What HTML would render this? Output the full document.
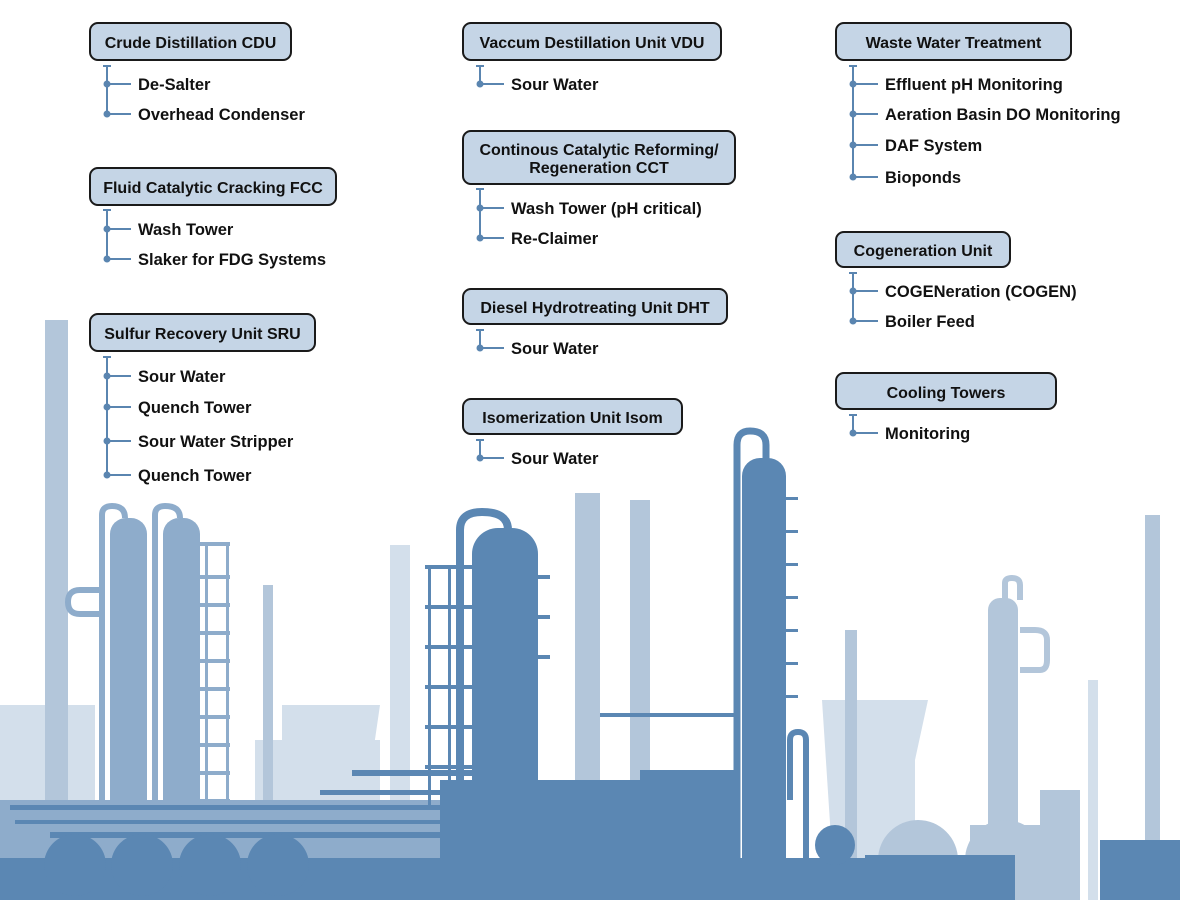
<!DOCTYPE html>
<html><head><meta charset="utf-8"><style>
html,body{margin:0;padding:0;background:#fff;width:1200px;height:900px;overflow:hidden}
svg{display:block}
text{font-family:"Liberation Sans",sans-serif;font-weight:bold;fill:#111}
.it{font-size:16.5px}
.hd{font-size:16px}
.bx{fill:#c5d5e6;stroke:#1a1a1a;stroke-width:2}
.br{stroke:#5a85b0;stroke-width:2;fill:none}
.dot{fill:#5a85b0}
.L{fill:#d3dfeb}.M{fill:#b3c6da}.N{fill:#8eaccb}.D{fill:#5b87b3}
</style></head><body>
<svg width="1200" height="900" viewBox="0 0 1200 900" xmlns="http://www.w3.org/2000/svg">
<g>
<rect class="L" x="0" y="705" width="95" height="195"/>
<path class="L" d="M282 705 H380 L372 760 V900 H282 Z"/>
<path class="L" d="M822 700 H928 L915 760 V900 H835 Z"/>
<rect class="L" x="255" y="740" width="125" height="160"/>
<rect class="M" x="45" y="320" width="23" height="580"/>
<rect class="M" x="575" y="493" width="25" height="407"/>
<rect class="M" x="630" y="500" width="20" height="400"/>
<rect class="L" x="390" y="545" width="20" height="355"/>
<rect class="M" x="263" y="585" width="10" height="315"/>
<rect class="M" x="1145" y="515" width="15" height="385"/>
<rect class="L" x="1088" y="680" width="10" height="220"/>
<rect class="M" x="845" y="630" width="12" height="270"/>
<rect class="M" x="988" y="598" width="30" height="302" rx="12"/>
<path d="M1020 670 H1040 Q1047 670 1047 660 V640 Q1047 630 1035 630 H1020" stroke="#b3c6da" stroke-width="6" fill="none"/>
<path d="M1005 600 V583 Q1005 578 1012 578 Q1020 578 1020 585 V600" stroke="#b3c6da" stroke-width="6" fill="none"/>
<rect class="M" x="970" y="825" width="80" height="75"/>
<circle class="M" cx="918" cy="860" r="40"/>
<circle class="M" cx="1005" cy="860" r="40"/>
<rect class="M" x="1040" y="790" width="40" height="110"/>
<rect class="N" x="0" y="800" width="440" height="60"/>
<rect class="N" x="110" y="518" width="37" height="340" rx="16"/>
<rect class="N" x="163" y="518" width="37" height="340" rx="16"/>
<path d="M102 830 V515 Q102 506 112 506 Q125 506 125 518" stroke="#8eaccb" stroke-width="6" fill="none"/>
<path d="M155 830 V515 Q155 506 165 506 Q180 506 180 518" stroke="#8eaccb" stroke-width="6" fill="none"/>
<path d="M102 590 H80 Q68 590 68 602 Q68 614 80 614 H102" stroke="#8eaccb" stroke-width="6" fill="none"/>
<g fill="#8eaccb">
<rect x="200" y="542" width="30" height="4"/><rect x="200" y="575" width="30" height="4"/><rect x="200" y="603" width="30" height="4"/><rect x="200" y="631" width="30" height="4"/><rect x="200" y="659" width="30" height="4"/><rect x="200" y="687" width="30" height="4"/><rect x="200" y="715" width="30" height="4"/><rect x="200" y="743" width="30" height="4"/><rect x="200" y="771" width="30" height="4"/><rect x="200" y="799" width="30" height="4"/>
<rect x="205" y="545" width="3" height="300"/><rect x="226" y="545" width="3" height="300"/>
</g>
<rect class="D" x="472" y="528" width="66" height="372" rx="26"/>
<path d="M460 860 V530 Q460 512 482 512 Q508 512 508 530" stroke="#5b87b3" stroke-width="8" fill="none"/>
<rect class="D" x="742" y="458" width="44" height="442" rx="18"/>
<path d="M737 860 V445 Q737 431 750 431 Q766 431 766 445 V460" stroke="#5b87b3" stroke-width="7" fill="none"/>
<g fill="#5b87b3">
<rect x="425" y="565" width="48" height="4"/><rect x="425" y="605" width="48" height="4"/><rect x="425" y="645" width="48" height="4"/><rect x="425" y="685" width="48" height="4"/><rect x="425" y="725" width="48" height="4"/><rect x="425" y="765" width="48" height="4"/>
<rect x="428" y="565" width="3" height="240"/><rect x="448" y="565" width="3" height="240"/>
<rect x="538" y="575" width="12" height="4"/><rect x="538" y="615" width="12" height="4"/><rect x="538" y="655" width="12" height="4"/>
<rect x="786" y="497" width="12" height="3"/><rect x="786" y="530" width="12" height="3"/><rect x="786" y="563" width="12" height="3"/><rect x="786" y="596" width="12" height="3"/><rect x="786" y="629" width="12" height="3"/><rect x="786" y="662" width="12" height="3"/><rect x="786" y="695" width="12" height="3"/>
<rect x="600" y="713" width="140" height="4"/>
<rect x="352" y="770" width="120" height="6"/>
<rect x="0" y="858" width="870" height="42"/>
<rect x="440" y="780" width="130" height="120"/>
<rect x="565" y="780" width="80" height="120"/>
<rect x="640" y="770" width="100" height="130"/>
<rect x="10" y="805" width="440" height="5"/>
<rect x="15" y="820" width="430" height="4"/>
<rect x="50" y="832" width="390" height="6"/>
<rect x="320" y="790" width="130" height="5"/>
<rect x="865" y="855" width="150" height="45"/>
<rect x="1100" y="840" width="80" height="60"/>
</g>
<path d="M790 800 V740 Q790 732 798 732 Q806 732 806 740 V860" stroke="#5b87b3" stroke-width="6" fill="none"/>
<circle class="D" cx="75" cy="865" r="31"/>
<circle class="D" cx="142" cy="865" r="31"/>
<circle class="D" cx="210" cy="865" r="31"/>
<circle class="D" cx="278" cy="865" r="31"/>
<circle class="D" cx="835" cy="845" r="20"/>
</g>

<g>
<rect class="bx" x="90" y="23" width="201" height="37" rx="8"/>
<text class="hd" x="190.5" y="48" text-anchor="middle">Crude Distillation  CDU</text>
<rect class="bx" x="90" y="168" width="246" height="37" rx="8"/>
<text class="hd" x="213" y="193" text-anchor="middle">Fluid Catalytic Cracking FCC</text>
<rect class="bx" x="90" y="314" width="225" height="37" rx="8"/>
<text class="hd" x="202.5" y="339" text-anchor="middle">Sulfur Recovery Unit SRU</text>
<rect class="bx" x="463" y="23" width="258" height="37" rx="8"/>
<text class="hd" x="592" y="48" text-anchor="middle">Vaccum Destillation Unit VDU</text>
<rect class="bx" x="463" y="131" width="272" height="53" rx="8"/>
<text class="hd" x="599" y="155" text-anchor="middle">Continous Catalytic Reforming/</text>
<text class="hd" x="599" y="173" text-anchor="middle">Regeneration  CCT</text>
<rect class="bx" x="463" y="289" width="264" height="35" rx="8"/>
<text class="hd" x="595" y="313" text-anchor="middle">Diesel Hydrotreating Unit DHT</text>
<rect class="bx" x="463" y="399" width="219" height="35" rx="8"/>
<text class="hd" x="572.5" y="423" text-anchor="middle">Isomerization Unit Isom</text>
<rect class="bx" x="836" y="23" width="235" height="37" rx="8"/>
<text class="hd" x="953.5" y="48" text-anchor="middle">Waste Water Treatment</text>
<rect class="bx" x="836" y="232" width="174" height="35" rx="8"/>
<text class="hd" x="923" y="256" text-anchor="middle">Cogeneration Unit</text>
<rect class="bx" x="836" y="373" width="220" height="36" rx="8"/>
<text class="hd" x="946" y="398" text-anchor="middle">Cooling Towers</text>
</g>

<g>
<path class="br" d="M103 66 H111 M107 66 V114 M107 84 H131 M107 114 H131"/>
<circle class="dot" cx="107" cy="84" r="3.5"/><circle class="dot" cx="107" cy="114" r="3.5"/>
<text class="it" x="138" y="90">De-Salter</text>
<text class="it" x="138" y="120">Overhead Condenser</text>
<path class="br" d="M103 210 H111 M107 210 V259 M107 229 H131 M107 259 H131"/>
<circle class="dot" cx="107" cy="229" r="3.5"/><circle class="dot" cx="107" cy="259" r="3.5"/>
<text class="it" x="138" y="235">Wash Tower</text>
<text class="it" x="138" y="265">Slaker for FDG Systems</text>
<path class="br" d="M103 357 H111 M107 357 V475 M107 376 H131 M107 407 H131 M107 441 H131 M107 475 H131"/>
<circle class="dot" cx="107" cy="376" r="3.5"/><circle class="dot" cx="107" cy="407" r="3.5"/><circle class="dot" cx="107" cy="441" r="3.5"/><circle class="dot" cx="107" cy="475" r="3.5"/>
<text class="it" x="138" y="382">Sour Water</text>
<text class="it" x="138" y="413">Quench Tower</text>
<text class="it" x="138" y="447">Sour Water Stripper</text>
<text class="it" x="138" y="481">Quench Tower</text>
<path class="br" d="M476 66 H484 M480 66 V84 H504"/>
<circle class="dot" cx="480" cy="84" r="3.5"/>
<text class="it" x="511" y="90">Sour Water</text>
<path class="br" d="M476 189 H484 M480 189 V238 M480 208 H504 M480 238 H504"/>
<circle class="dot" cx="480" cy="208" r="3.5"/><circle class="dot" cx="480" cy="238" r="3.5"/>
<text class="it" x="511" y="214">Wash Tower (pH critical)</text>
<text class="it" x="511" y="244">Re-Claimer</text>
<path class="br" d="M476 330 H484 M480 330 V348 H504"/>
<circle class="dot" cx="480" cy="348" r="3.5"/>
<text class="it" x="511" y="354">Sour Water</text>
<path class="br" d="M476 440 H484 M480 440 V458 H504"/>
<circle class="dot" cx="480" cy="458" r="3.5"/>
<text class="it" x="511" y="464">Sour Water</text>
<path class="br" d="M849 66 H857 M853 66 V177 M853 84 H878 M853 114 H878 M853 145 H878 M853 177 H878"/>
<circle class="dot" cx="853" cy="84" r="3.5"/><circle class="dot" cx="853" cy="114" r="3.5"/><circle class="dot" cx="853" cy="145" r="3.5"/><circle class="dot" cx="853" cy="177" r="3.5"/>
<text class="it" x="885" y="90">Effluent pH Monitoring</text>
<text class="it" x="885" y="120">Aeration Basin DO Monitoring</text>
<text class="it" x="885" y="151">DAF System</text>
<text class="it" x="885" y="183">Bioponds</text>
<path class="br" d="M849 273 H857 M853 273 V321 M853 291 H878 M853 321 H878"/>
<circle class="dot" cx="853" cy="291" r="3.5"/><circle class="dot" cx="853" cy="321" r="3.5"/>
<text class="it" x="885" y="297">COGENeration (COGEN)</text>
<text class="it" x="885" y="327">Boiler Feed</text>
<path class="br" d="M849 415 H857 M853 415 V433 H878"/>
<circle class="dot" cx="853" cy="433" r="3.5"/>
<text class="it" x="885" y="439">Monitoring</text>
</g>
</svg>
</body></html>
